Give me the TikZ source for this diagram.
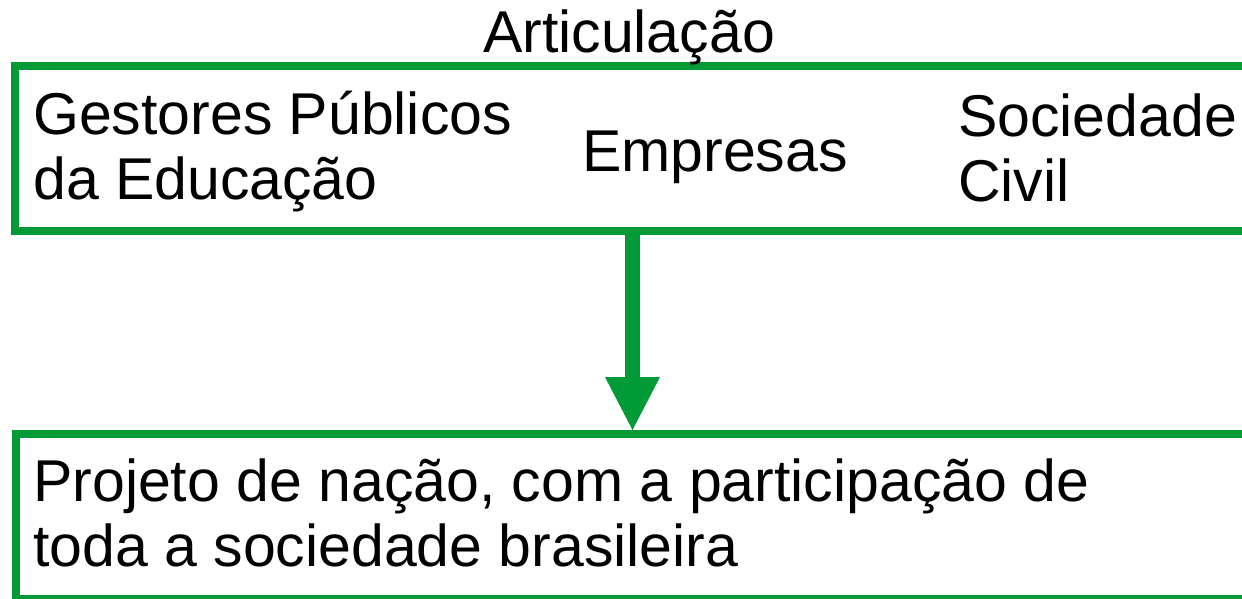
\documentclass[tikz,border=0pt]{standalone}
\usepackage{fontspec}
\setmainfont{Liberation Sans}
\usetikzlibrary{arrows.meta}
\definecolor{boxgreen}{RGB}{0,154,54}

\begin{document}
\begin{tikzpicture}[x=1pt, y=-1pt,
   box/.style={draw=boxgreen, line width=8pt, rectangle, inner sep=0pt,
      minimum width=1235pt, minimum height=165pt},
   txt/.style={font=\fontsize{59}{65}\selectfont, inner sep=0pt,
      align=left, anchor=base west},
   bigarrow/.style={draw=boxgreen, line width=15pt,
      -{Triangle[length=53pt, width=55pt, line width=0pt]}}]
   \useasboundingbox (0,0) rectangle (1242,598);

   % The two boxes
   \node[box] (top) at (632.5,148.5) {};
   \node[box] (bottom) at (633.5,516.5) {};

   % Texts (multi-line ones placed at their last baseline)
   \node[txt, anchor=base] (artic) at (629,52) {Articulação};
   \node[txt] (gestores) at (33,199) {Gestores Públicos\\da Educação};
   \node[txt] (empresas) at (582,171) {Empresas};
   \node[txt] (sociedade) at (958,201) {Sociedade\\Civil};
   \node[txt] (projeto) at (33,566) {Projeto de nação, com a participação de\\toda a sociedade brasileira};

   % Arrow
   \draw[bigarrow] (top.south) -- (top.south |- bottom.north);
\end{tikzpicture}
\end{document}
